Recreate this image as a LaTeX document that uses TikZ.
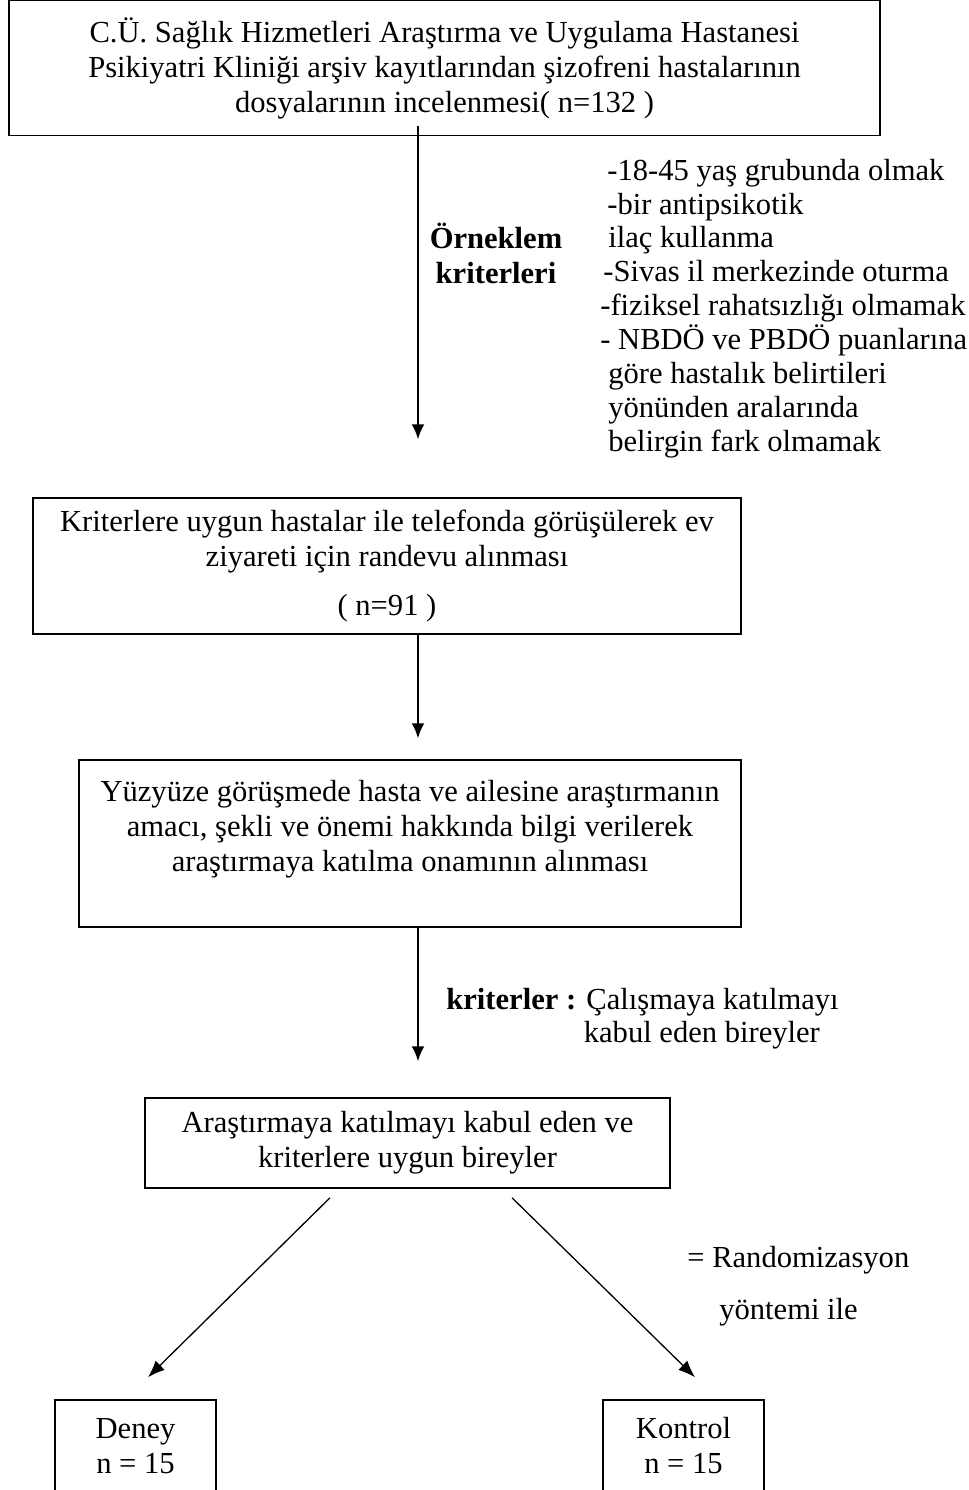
\documentclass[tikz,border=0pt]{standalone}
\usepackage{fontspec}
\setmainfont{Liberation Serif}
\usetikzlibrary{arrows.meta,calc}
\tikzset{
	flowbox/.style={draw, line width=0.03cm, align=center, inner sep=0pt},
	down/.style={-{Latex[length=0.3cm,width=0.26cm]}, line width=0.04cm},
	split/.style={-{Latex[length=0.34cm,width=0.26cm]}, line width=0.026cm}
}

\begin{document}
\begin{tikzpicture}[every node/.style={font=\fontsize{17.4}{19.9}\selectfont}]
	\useasboundingbox (0,0) rectangle (19.36,-29.8);
	\coordinate (axis) at (8.36,0);
	
	%archive
	\node[flowbox, minimum width=17.42cm, minimum height=2.7cm] (archive) at (8.89,-1.36)
		{C.Ü. Sağlık Hizmetleri Araştırma ve Uygulama Hastanesi\\Psikiyatri Kliniği arşiv kayıtlarından şizofreni hastalarının\\dosyalarının incelenmesi( n=132 )};
	
	%phone call
	\node[flowbox, minimum width=14.16cm, minimum height=2.72cm] (phone) at (7.74,-11.32)
		{Kriterlere uygun hastalar ile telefonda görüşülerek ev\\ziyareti için randevu alınması\\[0.28cm]( n=91 )};
	
	%consent
	\node[flowbox, minimum width=13.24cm, minimum height=3.34cm] (consent) at (8.2,-16.87)
		{Yüzyüze görüşmede hasta ve ailesine araştırmanın\\amacı, şekli ve önemi hakkında bilgi verilerek\\araştırmaya katılma onamının alınması\\ \mbox{}};
	
	%accepted
	\node[flowbox, minimum width=10.5cm, minimum height=1.8cm] (accepted) at (8.15,-22.86)
		{Araştırmaya katılmayı kabul eden ve\\kriterlere uygun bireyler};
	
	%groups
	\node[flowbox, minimum width=3.22cm, minimum height=1.84cm] (deney) at (2.71,-28.92) {Deney\\n = 15};
	\node[flowbox, minimum width=3.22cm, minimum height=1.84cm] (kontrol) at (13.67,-28.92) {Kontrol\\n = 15};
	
	%labels
	\node[align=center, font=\fontsize{17.4}{19.9}\selectfont\bfseries] (sampling) at (9.92,-5.06) {Örneklem\\kriterleri};
	\node[anchor=west, align=left, inner sep=0pt, font=\fontsize{17.4}{19.3}\selectfont] (criteria) at (12.0,-6.17)
		{\hspace*{0.14cm}-18-45 yaş grubunda olmak\\
		 \hspace*{0.14cm}-bir antipsikotik\\
		 \hspace*{0.16cm}ilaç kullanma\\
		 \hspace*{0.06cm}-Sivas il merkezinde oturma\\
		 -fiziksel rahatsızlığı olmamak\\
		 - NBDÖ ve PBDÖ puanlarına\\
		 \hspace*{0.16cm}göre hastalık belirtileri\\
		 \hspace*{0.16cm}yönünden aralarında\\
		 \hspace*{0.16cm}belirgin fark olmamak};
	\node[anchor=west, align=left, inner sep=0pt, font=\fontsize{17.4}{19.1}\selectfont] (consentcrit) at (8.92,-20.37)
		{\textbf{kriterler :} Çalışmaya katılmayı\\\hphantom{\textbf{kriterler :}} kabul eden bireyler};
	\node[anchor=west, align=left, inner sep=0pt] (random) at (13.74,-25.72)
		{= Randomizasyon\\[0.34cm]\hspace*{0.64cm}yöntemi ile};
	
	%arrows
	\draw[down, shorten <=-0.2cm, shorten >=1.16cm] (archive.south -| axis) -- (phone.north -| axis);
	\draw[down, shorten >=0.42cm] (phone.south -| axis) -- (consent.north -| axis);
	\draw[down, shorten >=0.72cm] (consent.south -| axis) -- (accepted.north -| axis);
	\draw[split] ($(accepted.south)+(-1.55,-0.18)$) -- ($(deney.north)+(0.25,0.44)$);
	\draw[split] ($(accepted.south)+(2.09,-0.18)$) -- ($(kontrol.north)+(0.23,0.44)$);
\end{tikzpicture}
\end{document}
